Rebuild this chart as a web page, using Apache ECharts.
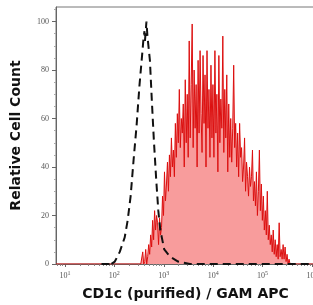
<!DOCTYPE html>
<html>
<head>
<meta charset="utf-8">
<script src="https://cdn.jsdelivr.net/npm/echarts@6/dist/echarts.min.js"></script>
<style>
  html, body { margin: 0; padding: 0; background: #fff; }
  #chart { width: 313px; height: 305px; }
</style>
</head>
<body>
<div id="chart"></div>
<script>
// x is stored as log10 of the fluorescence intensity
const decadeTicks = [1, 2, 3, 4, 5, 6];
const yTicks = [0, 20, 40, 60, 80, 100];
const yMinorTicks = [5, 10, 15, 25, 30, 35, 45, 50, 55, 65, 70, 75, 85, 90, 95, 105];

// isotype control (dashed black), [log10 x, relative count]
const isotype = [
  [1.74, 0], [1.89, 0], [1.91, 1], [1.94, 0], [2.01, 1], [2.11, 5], [2.21, 11], [2.27, 18],
  [2.33, 28], [2.39, 43], [2.45, 57], [2.51, 74], [2.57, 88], [2.59, 93],
  [2.61, 96], [2.62, 92], [2.65, 100], [2.67, 94], [2.69, 90], [2.72, 84],
  [2.76, 67], [2.80, 51], [2.85, 34], [2.89, 22], [2.93, 14], [3.01, 6],
  [3.13, 3], [3.29, 1], [3.53, 0], [6.1, 0]
];

// CD1c stained histogram (red), bins start at log10 = 2.535, width 0.02
const binStart = 2.535;
const binWidth = 0.02;
const cd1c = [
  0, 0,
  5, 0, 1, 6, 0, 3, 8, 4, 12, 7,
  18, 10, 22, 14, 20, 17, 8, 19, 12, 15,
  28, 20, 38, 26, 33, 42, 30, 45, 36, 52,
  40, 47, 36, 58, 44, 62, 50, 72, 48, 60,
  54, 66, 40, 76, 50, 70, 44, 92, 52, 74,
  99, 48, 80, 56, 74, 40, 84, 54, 88, 62,
  46, 86, 58, 78, 40, 88, 56, 72, 44, 82,
  52, 74, 44, 88, 54, 70, 38, 86, 50, 68,
  56, 94, 46, 72, 52, 78, 38, 66, 44, 60,
  42, 56, 82, 48, 58, 40, 54, 36, 58, 44,
  48, 34, 40, 52, 30, 42, 36, 28, 40, 32,
  36, 47, 26, 34, 24, 38, 20, 30, 47, 22,
  33, 18, 28, 14, 22, 12, 30, 10, 16, 8,
  12, 5, 14, 4, 10, 3, 8, 2, 17, 3,
  6, 2, 8, 2, 7, 1, 4, 0, 2, 0
];

const xMin = 0.82, xMax = 6.06;

let cd1cData = [[xMin, 0]];
cd1c.forEach((v, i) => {
  cd1cData.push([+(binStart + i * binWidth).toFixed(3), v]);
});
cd1cData.push([xMax, 0]);

// minor ticks at 2..9 x 10^k
let minorX = [];
for (let k = 0; k <= 6; k++) {
  for (let m = 2; m <= 9; m++) {
    let v = k + Math.log10(m);
    if (v > xMin && v < xMax) minorX.push(v);
  }
}

const tickFont = "Liberation Serif";
const titleFont = "DejaVu Sans";

let chart = echarts.init(document.getElementById("chart"));
let option = {
  animation: false,
  grid: {
    left: 56,
    top: 7,
    right: -2,
    bottom: 41,
    outerBoundsMode: "none",
    show: true,
    borderColor: "#777",
    borderWidth: 1,
  },
  xAxis: [
    {
      type: "value",
      min: xMin,
      max: xMax,
      name: "CD1c (purified) / GAM APC",
      nameLocation: "middle",
      nameGap: 23,
      nameTextStyle: {
        fontFamily: titleFont,
        fontWeight: "bold",
        fontSize: 14,
        color: "#111",
      },
      splitLine: { show: false },
      axisLine: { show: true, lineStyle: { color: "#666", width: 1 } },
      axisTick: {
        show: true,
        length: 3,
        customValues: decadeTicks,
        lineStyle: { color: "#666" },
      },
      axisLabel: {
        customValues: decadeTicks,
        margin: 6,
        hideOverlap: false,
        formatter: (v) => `{b|10}{s|${Math.round(v)}}`,
        rich: {
          b: { fontFamily: tickFont, fontSize: 8, color: "#555" },
          s: {
            fontFamily: tickFont,
            fontSize: 6,
            color: "#555",
            verticalAlign: "top",
            padding: [0, 0, 6, 0],
          },
        },
      },
    },
    {
      type: "value",
      min: xMin,
      max: xMax,
      position: "bottom",
      splitLine: { show: false },
      axisLine: { show: false },
      axisLabel: { show: false },
      axisTick: {
        show: true,
        length: 2,
        customValues: minorX,
        lineStyle: { color: "#888" },
      },
    },
  ],
  yAxis: [
    {
      type: "value",
      min: 0,
      max: 106,
      name: "Relative Cell Count",
      nameLocation: "middle",
      nameGap: 33,
      nameTextStyle: {
        fontFamily: titleFont,
        fontWeight: "bold",
        fontSize: 14,
        color: "#111",
      },
      splitLine: { show: false },
      axisLine: { show: true, lineStyle: { color: "#666", width: 1 } },
      axisTick: {
        show: true,
        length: 4,
        customValues: yTicks,
        lineStyle: { color: "#666" },
      },
      axisLabel: {
        customValues: yTicks,
        margin: 7,
        fontFamily: tickFont,
        fontSize: 8,
        color: "#555",
      },
    },
    {
      type: "value",
      min: 0,
      max: 106,
      position: "left",
      splitLine: { show: false },
      axisLine: { show: false },
      axisLabel: { show: false },
      axisTick: {
        show: true,
        length: 2,
        customValues: yMinorTicks,
        lineStyle: { color: "#aaa" },
      },
    },
  ],
  series: [
    {
      name: "CD1c",
      type: "line",
      data: cd1cData,
      symbol: "none",
      lineStyle: { color: "#dc1010", width: 1 },
      areaStyle: { color: "#f89c9c", opacity: 1 },
      z: 2,
    },
    {
      name: "Isotype",
      type: "line",
      data: isotype,
      symbol: "none",
      lineStyle: { color: "#111", width: 2, type: [8, 5] },
      z: 3,
    },
  ],
};
chart.setOption(option);
</script>
</body>
</html>
